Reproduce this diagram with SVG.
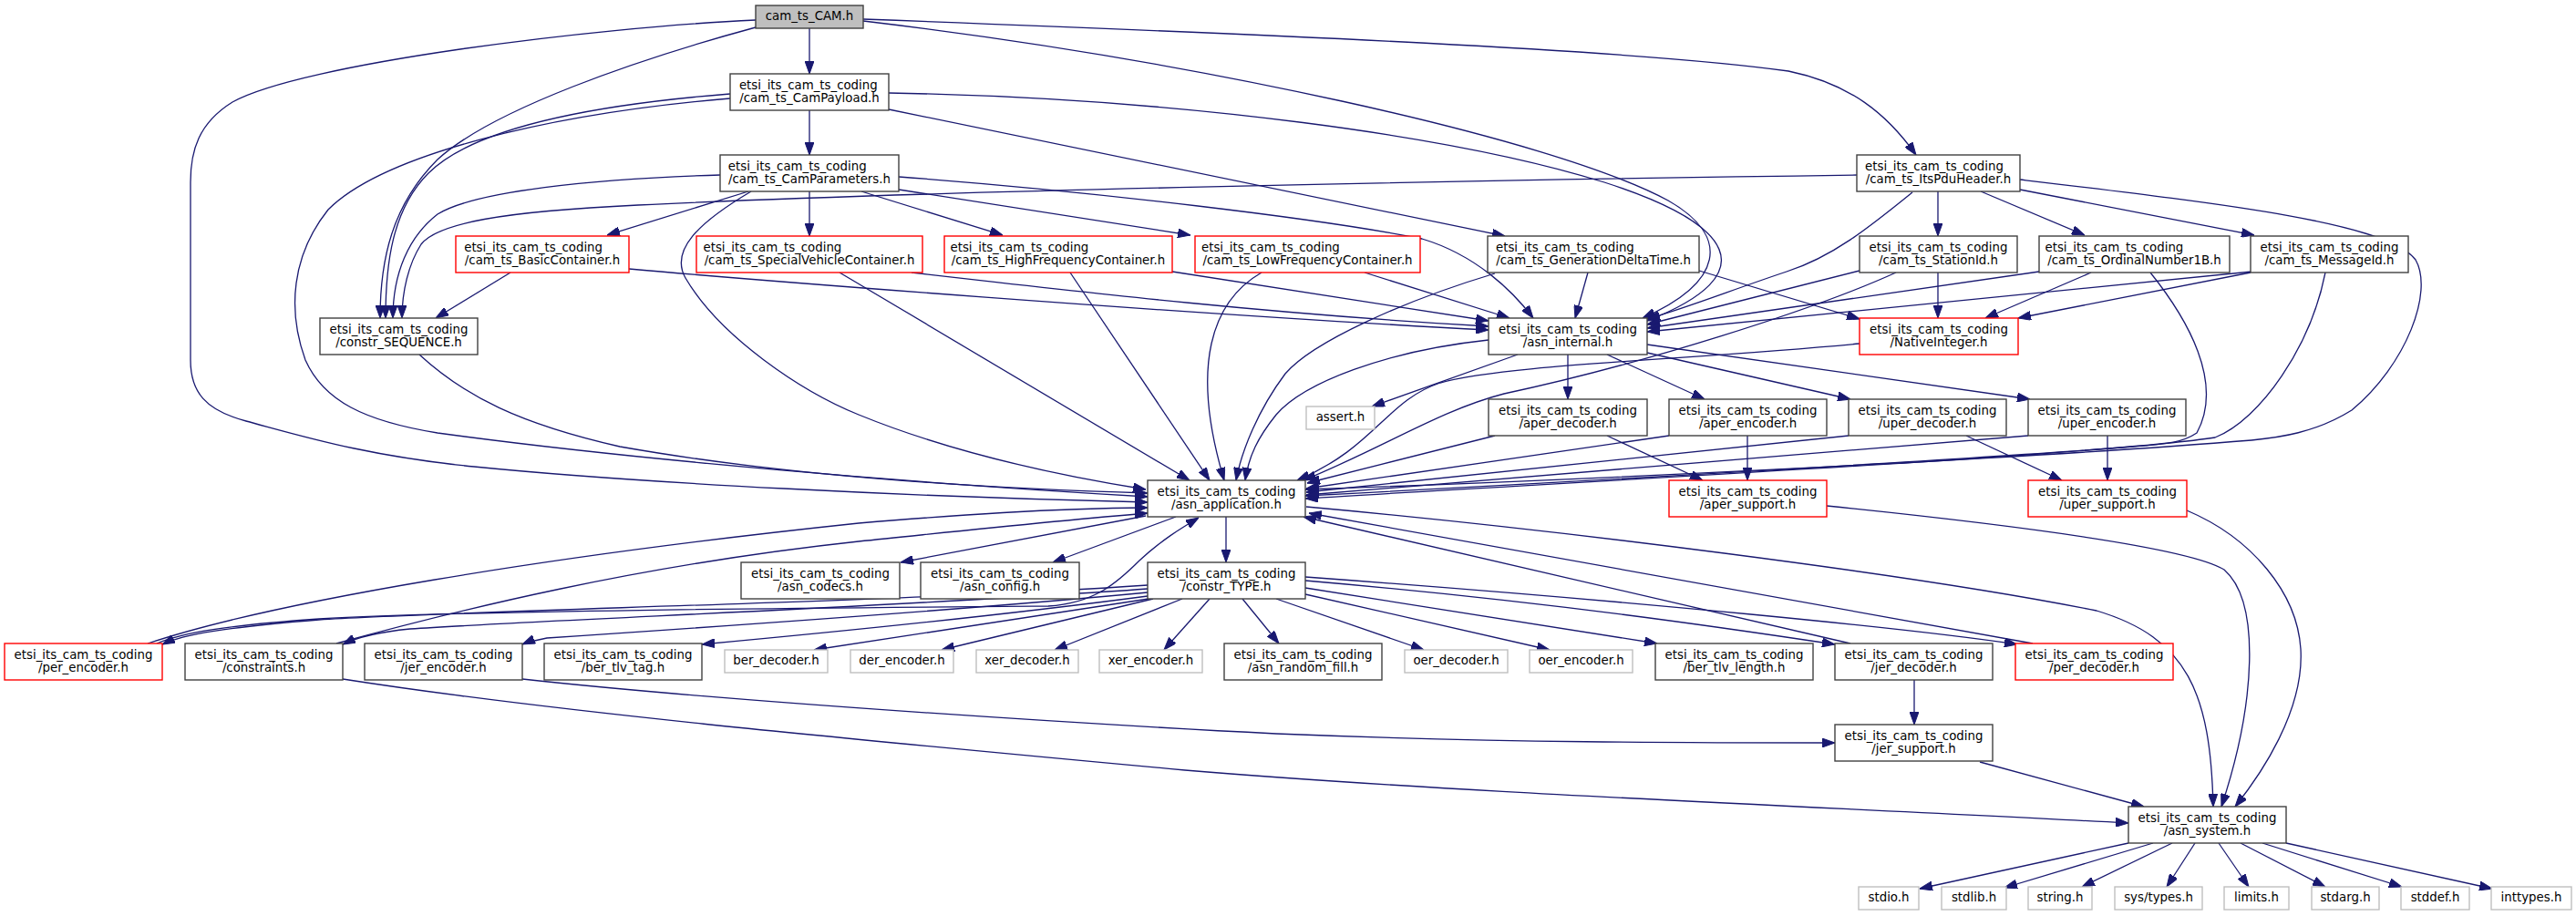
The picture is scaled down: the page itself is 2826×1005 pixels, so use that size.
<svg xmlns="http://www.w3.org/2000/svg" width="2826" height="1005" viewBox="0 0 2826 1005">
<style>
.n rect{fill:#fff;stroke:#404040;stroke-width:1.4}
.n.r rect{stroke:#ff0000}
.n.g rect{stroke:#bfbfbf}
.n.root rect{fill:#bfbfbf;stroke:#404040}
text{font-family:"DejaVu Sans","Liberation Sans",sans-serif;font-size:13.33px;fill:#000}
text.c{text-anchor:middle}
.e path{fill:none;stroke:#191970;stroke-width:1.3;marker-end:url(#ah)}
</style>
<defs>
<marker id="ah" viewBox="0 0 14 10" refX="14" refY="5" markerWidth="14" markerHeight="10" markerUnits="userSpaceOnUse" orient="auto">
<path d="M0,0 L14,5 L0,10 Z" fill="#191970" stroke="#191970" stroke-width="1"/>
</marker>
</defs>
<rect width="2826" height="1005" fill="#fff"/>
<g id="edges" class="e">
<path d="M888,31 L888,81"/>
<path d="M947,21 C1400,38 1800,55 1962,78 C2030,92 2070,125 2102,170"/>
<path d="M829,30 C700,65 540,120 480,175 C430,225 417,285 417,349"/>
<path d="M829,22 C650,30 330,70 255,112 C218,135 209,165 209,200 L209,395 C209,430 225,450 270,462 C330,478 400,500 520,512 C700,530 1000,545 1259,551"/>
<path d="M947,23 C1300,65 1700,150 1830,220 C1900,260 1890,310 1802,349"/>
<path d="M888,121 L888,170"/>
<path d="M801,103 C650,115 520,140 470,190 C430,230 423,290 423,349"/>
<path d="M801,108 C600,125 420,170 360,230 C320,280 315,340 335,395 C355,440 400,462 480,475 C700,505 1000,530 1259,545"/>
<path d="M975,120 L1651,259"/>
<path d="M975,102 C1300,108 1600,150 1760,200 C1900,245 1940,300 1807,352"/>
<path d="M790,192 C650,196 520,210 480,235 C448,260 431,300 431,349"/>
<path d="M821,210 L666,258"/>
<path d="M888,210 L888,259"/>
<path d="M945,210 L1100,258"/>
<path d="M986,208 L1306,258"/>
<path d="M986,194 C1200,210 1450,240 1560,262 C1620,280 1660,320 1682,349"/>
<path d="M824,210 C765,245 735,275 752,305 C790,370 880,430 942,455 C1040,495 1150,520 1257,537"/>
<path d="M2126,210 L2126,259"/>
<path d="M2173,210 L2287,258"/>
<path d="M2216,208 L2473,258"/>
<path d="M2037,192 C1600,198 1000,210 700,225 C550,232 480,245 462,268 C448,290 441,320 441,349"/>
<path d="M2098,211 C2050,250 2010,282 1960,298 C1900,318 1850,338 1807,350"/>
<path d="M2216,197 C2450,225 2620,245 2650,285 C2670,320 2640,400 2580,450 C2540,475 2500,480 2470,483 C2200,505 1700,528 1432,537"/>
<path d="M560,299 L478,349"/>
<path d="M460,389 C510,435 570,465 680,490 C850,520 1050,535 1259,541"/>
<path d="M690,295 C800,305 1300,345 1633,362"/>
<path d="M1000,299 C1200,322 1400,345 1633,358"/>
<path d="M921,299 L1305,527"/>
<path d="M1286,298 L1633,352"/>
<path d="M1174,299 L1327,527"/>
<path d="M1497,299 L1656,349"/>
<path d="M1384,299 C1330,330 1305,400 1343,527"/>
<path d="M1742,299 L1728,349"/>
<path d="M1640,300 C1540,330 1440,375 1410,410 C1380,450 1362,495 1356,527"/>
<path d="M1864,297 L2040,350"/>
<path d="M2126,299 L2126,349"/>
<path d="M2040,297 L1807,356"/>
<path d="M2080,299 C1990,340 1800,400 1650,432 C1580,450 1520,490 1430,527"/>
<path d="M2294,299 L2178,349"/>
<path d="M2237,298 L1807,360"/>
<path d="M2359,299 C2400,350 2440,420 2410,475 C2395,485 2380,487 2340,490 C2150,505 1700,530 1432,544"/>
<path d="M2469,299 L2214,349"/>
<path d="M2470,298 L1807,364"/>
<path d="M2551,299 C2535,380 2480,460 2430,480 C2300,500 1700,530 1432,547"/>
<path d="M2040,377 C1850,395 1650,400 1580,420 C1520,440 1510,490 1423,527"/>
<path d="M1665,389 L1505,446"/>
<path d="M1720,389 L1720,438"/>
<path d="M1763,389 L1870,438"/>
<path d="M1807,387 L2030,438"/>
<path d="M1807,378 L2227,438"/>
<path d="M1633,373 C1520,385 1430,420 1400,455 C1380,480 1370,500 1366,527"/>
<path d="M1640,478 L1434,530"/>
<path d="M1763,478 L1868,527"/>
<path d="M1831,478 L1433,536"/>
<path d="M1917,478 L1917,527"/>
<path d="M2028,478 L1433,540"/>
<path d="M2157,478 L2262,527"/>
<path d="M2225,478 L1433,543"/>
<path d="M2312,478 L2312,527"/>
<path d="M2004,555 C2200,575 2400,600 2440,625 C2480,660 2475,770 2437,885"/>
<path d="M2399,560 C2470,590 2520,650 2524,712 C2528,780 2480,850 2452,885"/>
<path d="M1257,566 L988,617"/>
<path d="M1290,567 L1155,617"/>
<path d="M1345,567 L1345,617"/>
<path d="M1433,556 C1700,580 2100,630 2300,670 C2400,700 2425,760 2428,885"/>
<path d="M1259,642 C1000,660 500,670 350,680 C250,688 200,696 178,707"/>
<path d="M1259,646 C1000,665 600,680 450,690 C410,694 390,700 376,707"/>
<path d="M1259,650 C1050,670 750,690 600,700 C590,702 580,704 573,707"/>
<path d="M1259,654 C1100,675 900,695 770,707"/>
<path d="M1260,657 L893,713"/>
<path d="M1265,657 L1033,713"/>
<path d="M1297,657 L1157,713"/>
<path d="M1327,657 L1277,713"/>
<path d="M1363,657 L1403,706"/>
<path d="M1400,657 L1562,713"/>
<path d="M1432,652 L1700,713"/>
<path d="M1432,645 L1818,706"/>
<path d="M1432,637 C1700,660 1900,690 2013,707"/>
<path d="M1432,633 C1800,660 2100,690 2213,707"/>
<path d="M162,706 C300,660 600,610 942,574 C1050,565 1150,558 1259,557"/>
<path d="M369,706 C500,670 700,620 942,594 C1050,583 1150,572 1259,563"/>
<path d="M172,706 C200,694 250,686 350,679 C500,670 900,667 1150,665 C1200,662 1225,640 1250,615 C1275,592 1295,580 1315,568"/>
<path d="M2030,706 L1430,567"/>
<path d="M2230,706 L1436,563"/>
<path d="M2100,746 L2100,795"/>
<path d="M573,745 C800,770 1200,795 1400,805 C1650,815 1850,815 2013,815"/>
<path d="M376,745 C600,780 900,808 1300,845 C1600,870 2000,885 2335,903"/>
<path d="M2172,836 L2352,885"/>
<path d="M2335,925 L2106,975"/>
<path d="M2362,925 L2199,974"/>
<path d="M2383,925 L2284,973"/>
<path d="M2408,925 L2377,973"/>
<path d="M2434,925 L2467,973"/>
<path d="M2458,925 L2551,973"/>
<path d="M2482,925 L2635,973"/>
<path d="M2508,925 L2734,975"/>
</g>
<g id="n_cam_ts_CAM" class="n root"><rect x="829" y="6" width="118" height="25"/><text class="c" x="888" y="22">cam_ts_CAM.h</text></g>
<g id="n_CamPayload" class="n"><rect x="801" y="81" width="174" height="40"/><text x="810.9" y="98">etsi_its_cam_ts_coding</text><text class="c" x="888" y="111.5">/cam_ts_CamPayload.h</text></g>
<g id="n_CamParameters" class="n"><rect x="790" y="170" width="196" height="40"/><text x="798.8" y="187">etsi_its_cam_ts_coding</text><text class="c" x="888" y="200.5">/cam_ts_CamParameters.h</text></g>
<g id="n_ItsPduHeader" class="n"><rect x="2037" y="170" width="179" height="40"/><text x="2046.1" y="187">etsi_its_cam_ts_coding</text><text class="c" x="2126.5" y="200.5">/cam_ts_ItsPduHeader.h</text></g>
<g id="n_BasicContainer" class="n r"><rect x="500" y="259" width="190" height="40"/><text x="509.2" y="276">etsi_its_cam_ts_coding</text><text class="c" x="595" y="289.5">/cam_ts_BasicContainer.h</text></g>
<g id="n_SpecialVehicleContainer" class="n r"><rect x="764" y="259" width="248" height="40"/><text x="771.5" y="276">etsi_its_cam_ts_coding</text><text class="c" x="888" y="289.5">/cam_ts_SpecialVehicleContainer.h</text></g>
<g id="n_HighFrequencyContainer" class="n r"><rect x="1036" y="259" width="250" height="40"/><text x="1042.5" y="276">etsi_its_cam_ts_coding</text><text class="c" x="1161" y="289.5">/cam_ts_HighFrequencyContainer.h</text></g>
<g id="n_LowFrequencyContainer" class="n r"><rect x="1311" y="259" width="247" height="40"/><text x="1318" y="276">etsi_its_cam_ts_coding</text><text class="c" x="1434.5" y="289.5">/cam_ts_LowFrequencyContainer.h</text></g>
<g id="n_GenerationDeltaTime" class="n"><rect x="1632" y="259" width="232" height="40"/><text x="1641" y="276">etsi_its_cam_ts_coding</text><text class="c" x="1748" y="289.5">/cam_ts_GenerationDeltaTime.h</text></g>
<g id="n_StationId" class="n"><rect x="2040" y="259" width="173" height="40"/><text x="2050.6" y="276">etsi_its_cam_ts_coding</text><text class="c" x="2126.5" y="289.5">/cam_ts_StationId.h</text></g>
<g id="n_OrdinalNumber1B" class="n"><rect x="2237" y="259" width="209" height="40"/><text x="2243.5" y="276">etsi_its_cam_ts_coding</text><text class="c" x="2341.5" y="289.5">/cam_ts_OrdinalNumber1B.h</text></g>
<g id="n_MessageId" class="n"><rect x="2469" y="259" width="173" height="40"/><text x="2479.6" y="276">etsi_its_cam_ts_coding</text><text class="c" x="2555.5" y="289.5">/cam_ts_MessageId.h</text></g>
<g id="n_constr_SEQUENCE" class="n"><rect x="351" y="349" width="173" height="40"/><text x="361.6" y="366">etsi_its_cam_ts_coding</text><text class="c" x="437.5" y="379.5">/constr_SEQUENCE.h</text></g>
<g id="n_asn_internal" class="n"><rect x="1633" y="349" width="174" height="40"/><text x="1644.1" y="366">etsi_its_cam_ts_coding</text><text class="c" x="1720" y="379.5">/asn_internal.h</text></g>
<g id="n_NativeInteger" class="n r"><rect x="2040" y="349" width="174" height="40"/><text x="2051.1" y="366">etsi_its_cam_ts_coding</text><text class="c" x="2127" y="379.5">/NativeInteger.h</text></g>
<g id="n_assert" class="n g"><rect x="1433" y="446" width="75" height="25"/><text class="c" x="1470.5" y="462">assert.h</text></g>
<g id="n_aper_decoder" class="n"><rect x="1633" y="438" width="174" height="40"/><text x="1644.1" y="455">etsi_its_cam_ts_coding</text><text class="c" x="1720" y="468.5">/aper_decoder.h</text></g>
<g id="n_aper_encoder" class="n"><rect x="1831" y="438" width="173" height="40"/><text x="1841.6" y="455">etsi_its_cam_ts_coding</text><text class="c" x="1917.5" y="468.5">/aper_encoder.h</text></g>
<g id="n_uper_decoder" class="n"><rect x="2028" y="438" width="173" height="40"/><text x="2038.6" y="455">etsi_its_cam_ts_coding</text><text class="c" x="2114.5" y="468.5">/uper_decoder.h</text></g>
<g id="n_uper_encoder" class="n"><rect x="2225" y="438" width="173" height="40"/><text x="2235.6" y="455">etsi_its_cam_ts_coding</text><text class="c" x="2311.5" y="468.5">/uper_encoder.h</text></g>
<g id="n_asn_application" class="n"><rect x="1259" y="527" width="173" height="40"/><text x="1269.6" y="544">etsi_its_cam_ts_coding</text><text class="c" x="1345.5" y="557.5">/asn_application.h</text></g>
<g id="n_aper_support" class="n r"><rect x="1831" y="527" width="173" height="40"/><text x="1841.6" y="544">etsi_its_cam_ts_coding</text><text class="c" x="1917.5" y="557.5">/aper_support.h</text></g>
<g id="n_uper_support" class="n r"><rect x="2225" y="527" width="174" height="40"/><text x="2236.1" y="544">etsi_its_cam_ts_coding</text><text class="c" x="2312" y="557.5">/uper_support.h</text></g>
<g id="n_asn_codecs" class="n"><rect x="813" y="617" width="174" height="40"/><text x="824.1" y="634">etsi_its_cam_ts_coding</text><text class="c" x="900" y="647.5">/asn_codecs.h</text></g>
<g id="n_asn_config" class="n"><rect x="1010" y="617" width="174" height="40"/><text x="1021.1" y="634">etsi_its_cam_ts_coding</text><text class="c" x="1097" y="647.5">/asn_config.h</text></g>
<g id="n_constr_TYPE" class="n"><rect x="1259" y="617" width="173" height="40"/><text x="1269.6" y="634">etsi_its_cam_ts_coding</text><text class="c" x="1345.5" y="647.5">/constr_TYPE.h</text></g>
<g id="n_per_encoder" class="n r"><rect x="5" y="706" width="173" height="40"/><text x="15.6" y="723">etsi_its_cam_ts_coding</text><text class="c" x="91.5" y="736.5">/per_encoder.h</text></g>
<g id="n_constraints" class="n"><rect x="203" y="706" width="173" height="40"/><text x="213.6" y="723">etsi_its_cam_ts_coding</text><text class="c" x="289.5" y="736.5">/constraints.h</text></g>
<g id="n_jer_encoder" class="n"><rect x="400" y="706" width="173" height="40"/><text x="410.6" y="723">etsi_its_cam_ts_coding</text><text class="c" x="486.5" y="736.5">/jer_encoder.h</text></g>
<g id="n_ber_tlv_tag" class="n"><rect x="597" y="706" width="173" height="40"/><text x="607.6" y="723">etsi_its_cam_ts_coding</text><text class="c" x="683.5" y="736.5">/ber_tlv_tag.h</text></g>
<g id="n_ber_decoder" class="n g"><rect x="795" y="713" width="113" height="25"/><text class="c" x="851.5" y="729">ber_decoder.h</text></g>
<g id="n_der_encoder" class="n g"><rect x="933" y="713" width="113" height="25"/><text class="c" x="989.5" y="729">der_encoder.h</text></g>
<g id="n_xer_decoder" class="n g"><rect x="1071" y="713" width="112" height="25"/><text class="c" x="1127" y="729">xer_decoder.h</text></g>
<g id="n_xer_encoder" class="n g"><rect x="1206" y="713" width="113" height="25"/><text class="c" x="1262.5" y="729">xer_encoder.h</text></g>
<g id="n_asn_random_fill" class="n"><rect x="1343" y="706" width="173" height="40"/><text x="1353.6" y="723">etsi_its_cam_ts_coding</text><text class="c" x="1429.5" y="736.5">/asn_random_fill.h</text></g>
<g id="n_oer_decoder" class="n g"><rect x="1541" y="713" width="113" height="25"/><text class="c" x="1597.5" y="729">oer_decoder.h</text></g>
<g id="n_oer_encoder" class="n g"><rect x="1678" y="713" width="113" height="25"/><text class="c" x="1734.5" y="729">oer_encoder.h</text></g>
<g id="n_ber_tlv_length" class="n"><rect x="1816" y="706" width="173" height="40"/><text x="1826.6" y="723">etsi_its_cam_ts_coding</text><text class="c" x="1902.5" y="736.5">/ber_tlv_length.h</text></g>
<g id="n_jer_decoder" class="n"><rect x="2013" y="706" width="173" height="40"/><text x="2023.6" y="723">etsi_its_cam_ts_coding</text><text class="c" x="2099.5" y="736.5">/jer_decoder.h</text></g>
<g id="n_per_decoder" class="n r"><rect x="2211" y="706" width="173" height="40"/><text x="2221.6" y="723">etsi_its_cam_ts_coding</text><text class="c" x="2297.5" y="736.5">/per_decoder.h</text></g>
<g id="n_jer_support" class="n"><rect x="2013" y="795" width="173" height="40"/><text x="2023.6" y="812">etsi_its_cam_ts_coding</text><text class="c" x="2099.5" y="825.5">/jer_support.h</text></g>
<g id="n_asn_system" class="n"><rect x="2335" y="885" width="173" height="40"/><text x="2345.6" y="902">etsi_its_cam_ts_coding</text><text class="c" x="2421.5" y="915.5">/asn_system.h</text></g>
<g id="n_stdio" class="n g"><rect x="2039" y="973" width="66" height="25"/><text class="c" x="2072" y="989">stdio.h</text></g>
<g id="n_stdlib" class="n g"><rect x="2130" y="973" width="71" height="25"/><text class="c" x="2165.5" y="989">stdlib.h</text></g>
<g id="n_string" class="n g"><rect x="2225" y="973" width="70" height="25"/><text class="c" x="2260" y="989">string.h</text></g>
<g id="n_sys_types" class="n g"><rect x="2320" y="973" width="96" height="25"/><text class="c" x="2368" y="989">sys/types.h</text></g>
<g id="n_limits" class="n g"><rect x="2440" y="973" width="71" height="25"/><text class="c" x="2475.5" y="989">limits.h</text></g>
<g id="n_stdarg" class="n g"><rect x="2536" y="973" width="74" height="25"/><text class="c" x="2573" y="989">stdarg.h</text></g>
<g id="n_stddef" class="n g"><rect x="2634" y="973" width="75" height="25"/><text class="c" x="2671.5" y="989">stddef.h</text></g>
<g id="n_inttypes" class="n g"><rect x="2733" y="973" width="88" height="25"/><text class="c" x="2777" y="989">inttypes.h</text></g>
</svg>
